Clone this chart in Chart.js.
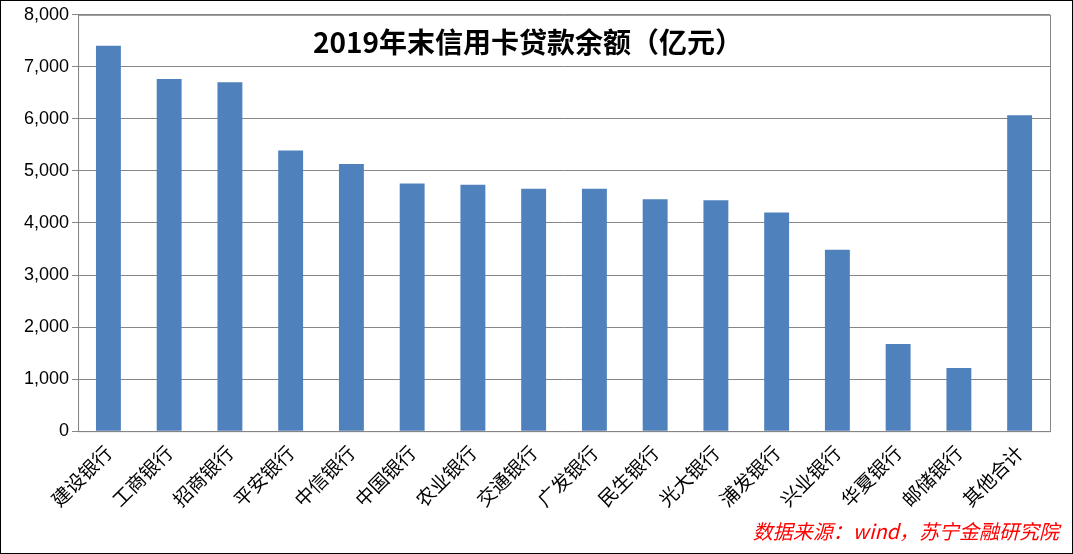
<!DOCTYPE html>
<html><head><meta charset="utf-8">
<script src="https://cdn.jsdelivr.net/npm/chart.js@4"></script>
<style>
html,body{margin:0;padding:0;background:#fff;}
#wrap{position:absolute;left:0;top:0;width:1071px;height:552px;border:1px solid #000;}
</style></head><body>
<div id="wrap"><canvas id="c"></canvas></div>
<script>
const categories=["建设银行","工商银行","招商银行","平安银行","中信银行","中国银行","农业银行","交通银行","广发银行","民生银行","光大银行","浦发银行","兴业银行","华夏银行","邮储银行","其他合计"];
const balances=[7403,6766,6706,5393,5134,4756,4736,4657,4657,4458,4438,4199,3483,1672,1214,6070];
const chartTitle="2019年末信用卡贷款余额（亿元）";
const sourceNote="数据来源：wind，苏宁金融研究院";
const overlay={id:'overlay',afterDraw(ch){
 const c=ch.ctx,a=ch.chartArea;
 c.save();
 c.strokeStyle='#868686';c.lineWidth=1;c.strokeRect(a.left+0.5,a.top+0.5,a.right-a.left,a.bottom-a.top);
 c.fillStyle='#000';c.font='bold 28px "Noto Sans CJK SC"';c.textAlign='center';c.textBaseline='middle';
 c.fillText(chartTitle,527,41);
 c.fillStyle='#FF0000';c.font='italic 20px "Noto Sans CJK SC"';c.textAlign='right';
 c.fillText(sourceNote,1058,530);
 c.restore();}};
new Chart(document.getElementById('c'),{type:'bar',
 data:{labels:categories,datasets:[{data:balances,backgroundColor:'#4F81BD',barPercentage:0.82,categoryPercentage:0.5}]},
 options:{responsive:true,maintainAspectRatio:false,animation:false,
  layout:{padding:{left:20,right:22,top:12,bottom:40}},
  plugins:{legend:{display:false},tooltip:{enabled:false}},
  scales:{
   x:{grid:{display:false},border:{color:'#868686'},ticks:{color:'#000',font:{size:19,family:'"Noto Sans CJK SC"'},maxRotation:45,minRotation:45,padding:2}},
   y:{min:0,max:8000,border:{color:'#868686'},grid:{color:'#868686',tickLength:6},
      ticks:{stepSize:1000,color:'#000',font:{size:18,family:'"Liberation Sans"'},callback:v=>v.toLocaleString('en-US')}}
  }},
 plugins:[overlay]});
</script></body></html>
